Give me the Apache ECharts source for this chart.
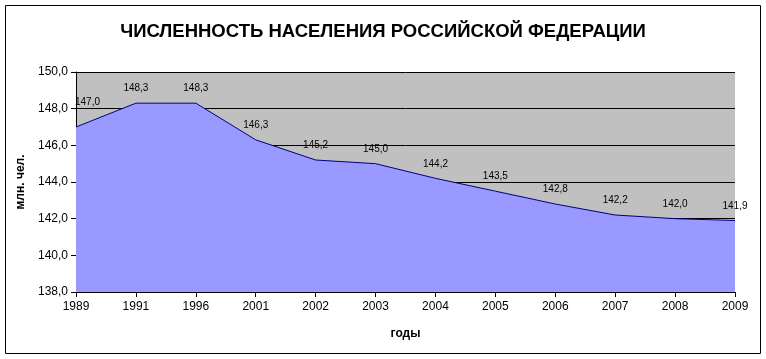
<!DOCTYPE html>
<html><head><meta charset="utf-8">
<script src="https://cdn.jsdelivr.net/npm/echarts@6/dist/echarts.min.js"></script>
<style>html,body{margin:0;padding:0;background:#fff}#c{width:766px;height:359px}</style>
</head><body><div id="c"></div>
<script>
const years = ['1989','1991','1996','2001','2002','2003','2004','2005','2006','2007','2008','2009'];
const population = [147.0,148.3,148.3,146.3,145.2,145.0,144.2,143.5,142.8,142.2,142.0,141.9];
const titleText = 'ЧИСЛЕННОСТЬ НАСЕЛЕНИЯ РОССИЙСКОЙ ФЕДЕРАЦИИ';
const yName = 'млн. чел.';
const xName = 'годы';
const fmt = v => v.toFixed(1).replace('.', ',');
const seriesData = population.map((v, i) => i === 0
  ? {value: v, label: {align: 'left', offset: [-1, -10]}}
  : v);
const chart = echarts.init(document.getElementById('c'));
chart.setOption({
  animation: false,
  textStyle: {fontFamily: 'Liberation Sans, Arial, sans-serif'},
  title: {text: titleText, left: 'center', top: 17,
    textStyle: {fontSize: 18.5, fontWeight: 'bold', color: '#000', fontFamily: 'Liberation Sans, Arial, sans-serif'}},
  graphic: [{type: 'rect', shape: {x: 5.5, y: 5.5, width: 755, height: 348}, style: {fill: null, stroke: '#000', lineWidth: 1}, z: -10}],
  grid: {left: 76, right: 31, top: 72, bottom: 67, show: true, backgroundColor: '#C0C0C0', borderWidth: 0},
  xAxis: {type: 'category', data: years, boundaryGap: false,
    name: xName, nameLocation: 'middle', nameGap: 36,
    nameTextStyle: {fontSize: 12, fontWeight: 'bold', color: '#000'},
    axisLine: {lineStyle: {color: '#000'}},
    axisTick: {show: true, length: 5, lineStyle: {color: '#000'}},
    axisLabel: {color: '#000', fontSize: 12, margin: 9},
    splitLine: {show: false}},
  yAxis: {type: 'value', min: 138, max: 150, interval: 2,
    name: yName, nameLocation: 'middle', nameGap: 41, nameRotate: 90,
    nameTextStyle: {fontSize: 12, fontWeight: 'bold', color: '#000'},
    axisLine: {show: true, lineStyle: {color: '#000'}},
    axisTick: {show: true, length: 5, lineStyle: {color: '#000'}},
    axisLabel: {color: '#000', fontSize: 12, formatter: fmt, margin: 8},
    splitLine: {show: true, lineStyle: {color: '#000', width: 1}}},
  series: [{type: 'line', data: seriesData, symbol: 'circle', symbolSize: 1, showSymbol: true,
    itemStyle: {color: 'rgba(0,0,0,0)'},
    lineStyle: {color: '#000080', width: 1},
    areaStyle: {color: '#9999FF', opacity: 1, origin: 'start'},
    label: {show: true, position: 'top', distance: 9, fontSize: 10, color: '#000',
      formatter: p => fmt(p.value)}}]
});
</script></body></html>
